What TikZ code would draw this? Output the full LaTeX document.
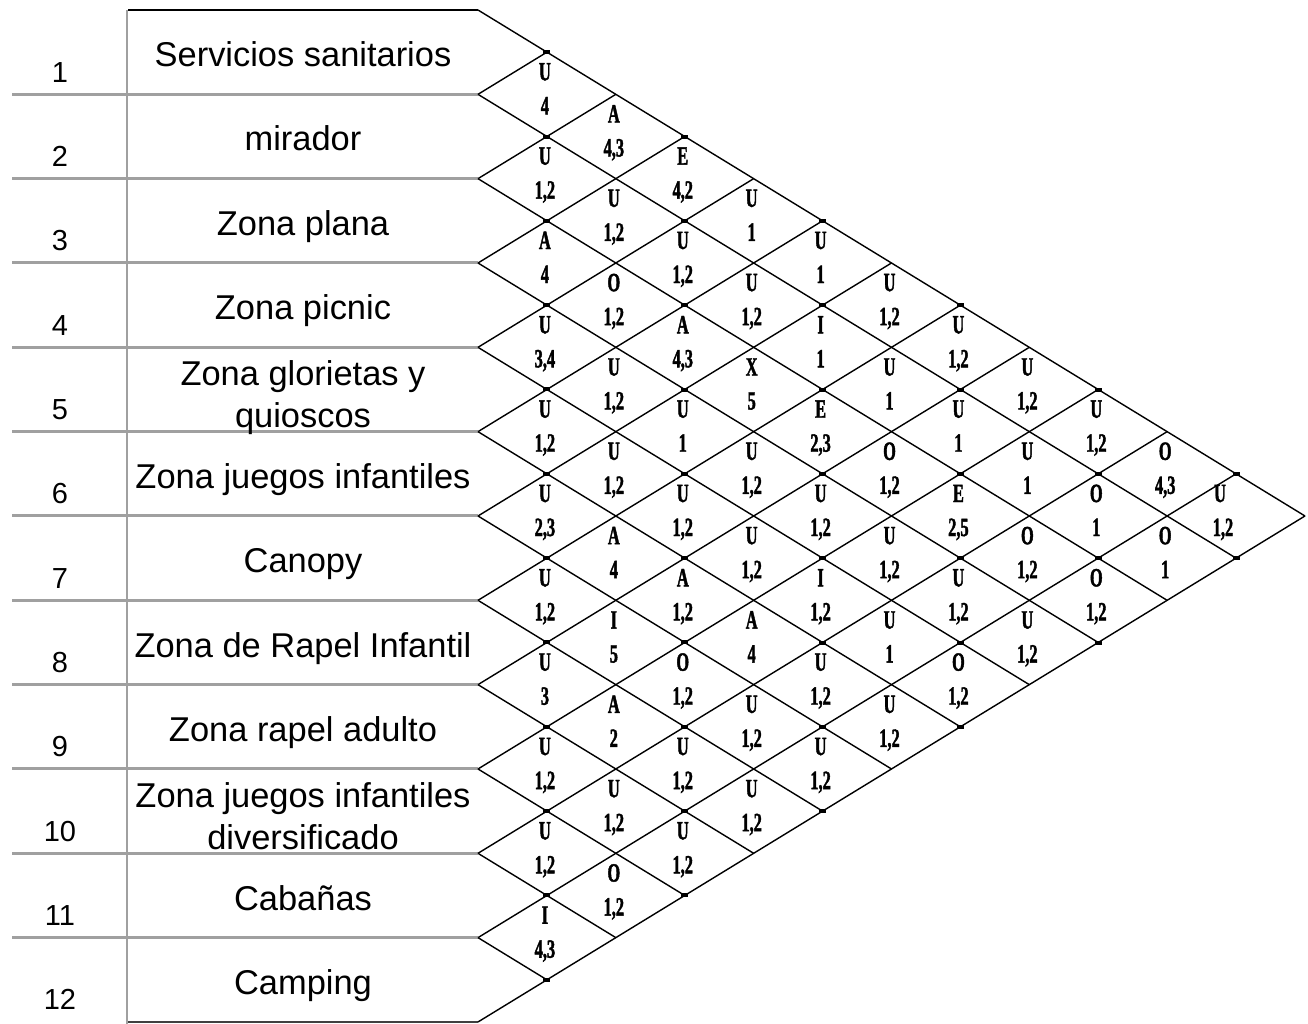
\documentclass[tikz,border=0pt]{standalone}
\usepackage{fontspec}
\setmainfont{Liberation Sans}
\newfontfamily\cellfam{Liberation Serif Bold}[FakeStretch=0.62, FakeBold=1.5]
\definecolor{rulegray}{RGB}{160,160,160}

\begin{document}
\begin{tikzpicture}[
x=0.02cm, y=-0.02cm,
every node/.style={inner sep=0pt},
zone/.style={anchor=base, align=center, font=\fontsize{19.6}{23.9}\selectfont},
rownum/.style={anchor=base, font=\fontsize{16.5}{20}\selectfont},
rel/.style={anchor=base, font=\cellfam\fontsize{15}{17}\selectfont},
rowrule/.style={draw=rulegray, line width=1.7pt},
gridline/.style={draw=black, line width=0.8pt},
vertex/.style={fill=black}
]
\useasboundingbox (0,0) rectangle (1308,1024);

% table on the left
\foreach \k in {1,...,11}
  \draw[rowrule] (12,{10+84.33*\k}) -- (478,{10+84.33*\k});
\draw[rowrule] (127,10) -- (127,1024);
\draw[gridline] (128,10) -- (478,10);
\draw[gridline, draw=darkgray] (128,1022) -- (478,1022);

% diamond grid
\foreach \k in {0,...,11}
  \draw[gridline] (478,{10+84.33*\k}) -- ({478+68.92*(12-\k)},{10+84.33*\k+42.17*(12-\k)});
\foreach \k in {1,...,12}
  \draw[gridline] (478,{10+84.33*\k}) -- ({478+68.92*\k},{10+84.33*\k-42.17*\k});
\foreach \c in {1,3,...,11} {
  \pgfmathtruncatemacro\last{12-\c}
  \foreach \n in {0,...,\last}
    \fill[vertex] ({478+68.92*\c-3.5},{10+42.17*\c+84.33*\n-2}) rectangle ++(7,4);
}

% row numbers
\foreach \n in {1,...,12}
  \node[rownum] (num\n) at (60,{10+84.33*\n-12}) {\n};

% activities (base = last line)
\node[zone] (zone1) at (303,66.7) {Servicios sanitarios};
\node[zone] (zone2) at (303,151) {mirador};
\node[zone] (zone3) at (303,235.3) {Zona plana};
\node[zone] (zone4) at (303,319.7) {Zona picnic};
\node[zone] (zone5) at (303,427) {Zona glorietas y\\quioscos};
\node[zone] (zone6) at (303,488.3) {Zona juegos infantiles};
\node[zone] (zone7) at (303,572.7) {Canopy};
\node[zone] (zone8) at (303,657) {Zona de Rapel Infantil};
\node[zone] (zone9) at (303,741.3) {Zona rapel adulto};
\node[zone] (zone10) at (303,849) {Zona juegos infantiles\\diversificado};
\node[zone] (zone11) at (303,910) {Cabañas};
\node[zone] (zone12) at (303,994.3) {Camping};

% closeness ratings: row/row/letter/reason
\foreach \i/\j/\r/\v in {
  1/2/U/4, 2/3/U/{1,2}, 3/4/A/4, 4/5/U/{3,4}, 5/6/U/{1,2}, 6/7/U/{2,3},
  7/8/U/{1,2}, 8/9/U/3, 9/10/U/{1,2}, 10/11/U/{1,2}, 11/12/I/{4,3},
  1/3/A/{4,3}, 2/4/U/{1,2}, 3/5/O/{1,2}, 4/6/U/{1,2}, 5/7/U/{1,2},
  6/8/A/4, 7/9/I/5, 8/10/A/2, 9/11/U/{1,2}, 10/12/O/{1,2},
  1/4/E/{4,2}, 2/5/U/{1,2}, 3/6/A/{4,3}, 4/7/U/1, 5/8/U/{1,2},
  6/9/A/{1,2}, 7/10/O/{1,2}, 8/11/U/{1,2}, 9/12/U/{1,2},
  1/5/U/1, 2/6/U/{1,2}, 3/7/X/5, 4/8/U/{1,2}, 5/9/U/{1,2},
  6/10/A/4, 7/11/U/{1,2}, 8/12/U/{1,2},
  1/6/U/1, 2/7/I/1, 3/8/E/{2,3}, 4/9/U/{1,2}, 5/10/I/{1,2},
  6/11/U/{1,2}, 7/12/U/{1,2},
  1/7/U/{1,2}, 2/8/U/1, 3/9/O/{1,2}, 4/10/U/{1,2}, 5/11/U/1, 6/12/U/{1,2},
  1/8/U/{1,2}, 2/9/U/1, 3/10/E/{2,5}, 4/11/U/{1,2}, 5/12/O/{1,2},
  1/9/U/{1,2}, 2/10/U/1, 3/11/O/{1,2}, 4/12/U/{1,2},
  1/10/U/{1,2}, 2/11/O/1, 3/12/O/{1,2},
  1/11/O/{4,3}, 2/12/O/1} {
  \node[rel] (rel\i-\j) at ({476+68.92*(\j-\i)},{10+42.17*(\i+\j-1)-14}) {\r};
  \node[rel] (val\i-\j) at ({476+68.92*(\j-\i)},{10+42.17*(\i+\j-1)+20}) {\v};
}
% last cell sits a little to the left
\node[rel] (rel1-12) at (1220,{10+42.17*12-14}) {U};
\node[rel] (val1-12) at (1223,{10+42.17*12+20}) {1,2};

\end{tikzpicture}
\end{document}
